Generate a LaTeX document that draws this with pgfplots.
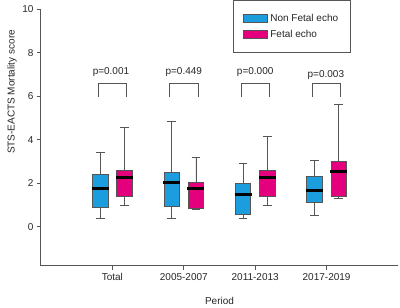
\documentclass[border=0pt]{standalone}
\usepackage{fontspec}
\setmainfont{Liberation Sans}
\usepackage{pgfplots}
\pgfplotsset{compat=1.18}
\usepgfplotslibrary{statistics}
\definecolor{nfblue}{RGB}{27,157,222}
\definecolor{fpink}{RGB}{228,0,124}
\definecolor{axgray}{RGB}{85,85,85}
\begin{document}
\begin{tikzpicture}[font=\fontsize{10}{12}\selectfont]
\begin{axis}[
  scale only axis, width=357pt, height=256.7pt,
  xmin=0, xmax=5, ymin=-1.8, ymax=10,
  axis x line*=bottom, axis y line*=left,
  axis line style={axgray, line width=1pt, -},
  xtick pos=bottom, ytick pos=left,
  tick align=outside, major tick length=4pt,
  tick style={axgray, line width=1pt},
  xtick={1,2,3,4}, xticklabels={Total,2005-2007,2011-2013,2017-2019},
  ytick={0,2,4,6,8,10},
  /pgf/number format/assume math mode=true,
  ticklabel style={text=black!85},
  xlabel={Period},
  label style={text=black!85},
  xlabel style={at={(axis description cs:0.5,-0.136)},anchor=center},
  legend style={at={(axis description cs:0.538,1.036)}, anchor=north west,
    draw=axgray, line width=1pt, inner xsep=9pt, inner ysep=11.5pt,
    row sep=3pt, cells={anchor=west}, text=black!85,
    nodes={inner xsep=3pt}},
  legend image code/.code={\draw[#1] (0pt,-3.8pt) rectangle (24pt,3.8pt);},
  boxplot/draw direction=y,
  boxplot/box extend=0.216,
  boxplot/whisker extend=0.12,
  boxplot/every median/.style={black, line width=3pt, shorten <=-0.8pt, shorten >=-0.8pt},
  boxplot/every whisker/.style={axgray, line width=0.8pt},
  clip=false,
]
\addlegendimage{fill=nfblue, draw=axgray, line width=0.8pt}
\addlegendentry{Non Fetal echo}
\addlegendimage{fill=fpink, draw=axgray, line width=0.8pt}
\addlegendentry{Fetal echo}

% Total
\addplot[forget plot, fill=nfblue, draw=axgray, line width=0.8pt, boxplot prepared={draw position=0.83,
  lower whisker=0.39, lower quartile=0.89, median=1.78, upper quartile=2.41, upper whisker=3.40}] coordinates {};
\addplot[forget plot, fill=fpink, draw=axgray, line width=0.8pt, boxplot prepared={draw position=1.17,
  lower whisker=0.98, lower quartile=1.38, median=2.28, upper quartile=2.59, upper whisker=4.55}] coordinates {};
% 2005-2007
\addplot[forget plot, fill=nfblue, draw=axgray, line width=0.8pt, boxplot prepared={draw position=1.83,
  lower whisker=0.39, lower quartile=0.92, median=2.02, upper quartile=2.50, upper whisker=4.86}] coordinates {};
\addplot[forget plot, fill=fpink, draw=axgray, line width=0.8pt, boxplot prepared={draw position=2.17,
  lower whisker=0.78, lower quartile=0.86, median=1.78, upper quartile=2.06, upper whisker=3.19}] coordinates {};
% 2011-2013
\addplot[forget plot, fill=nfblue, draw=axgray, line width=0.8pt, boxplot prepared={draw position=2.83,
  lower whisker=0.40, lower quartile=0.55, median=1.47, upper quartile=1.98, upper whisker=2.91}] coordinates {};
\addplot[forget plot, fill=fpink, draw=axgray, line width=0.8pt, boxplot prepared={draw position=3.17,
  lower whisker=0.98, lower quartile=1.38, median=2.25, upper quartile=2.61, upper whisker=4.17}] coordinates {};
% 2017-2019
\addplot[forget plot, fill=nfblue, draw=axgray, line width=0.8pt, boxplot prepared={draw position=3.83,
  lower whisker=0.52, lower quartile=1.12, median=1.67, upper quartile=2.33, upper whisker=3.05}] coordinates {};
\addplot[forget plot, fill=fpink, draw=axgray, line width=0.8pt, boxplot prepared={draw position=4.17,
  lower whisker=1.31, lower quartile=1.38, median=2.53, upper quartile=2.99, upper whisker=5.63}] coordinates {};

% brackets
\addplot[forget plot, axgray, line width=0.8pt] coordinates {(0.8,5.98)(0.8,6.59)(1.2,6.59)(1.2,5.98)};
\addplot[forget plot, axgray, line width=0.8pt] coordinates {(1.8,5.98)(1.8,6.59)(2.2,6.59)(2.2,5.98)};
\addplot[forget plot, axgray, line width=0.8pt] coordinates {(2.8,5.98)(2.8,6.59)(3.2,6.59)(3.2,5.98)};
\addplot[forget plot, axgray, line width=0.8pt] coordinates {(3.8,5.98)(3.8,6.59)(4.2,6.59)(4.2,5.98)};
\node[text=black!85] at (axis cs:0.98,7.1) {p=0.001};
\node[text=black!85] at (axis cs:2.0,7.1) {p=0.449};
\node[text=black!85] at (axis cs:3.0,7.1) {p=0.000};
\node[text=black!85] at (axis cs:3.99,6.99) {p=0.003};
\node[text=black!85, rotate=90, anchor=center] at (axis cs:-0.407,6.2) {STS-EACTS Mortality score};
\end{axis}
\pgfresetboundingbox
\path[use as bounding box] (-41pt,-42pt) rectangle (359pt,266pt);
\end{tikzpicture}
\end{document}
